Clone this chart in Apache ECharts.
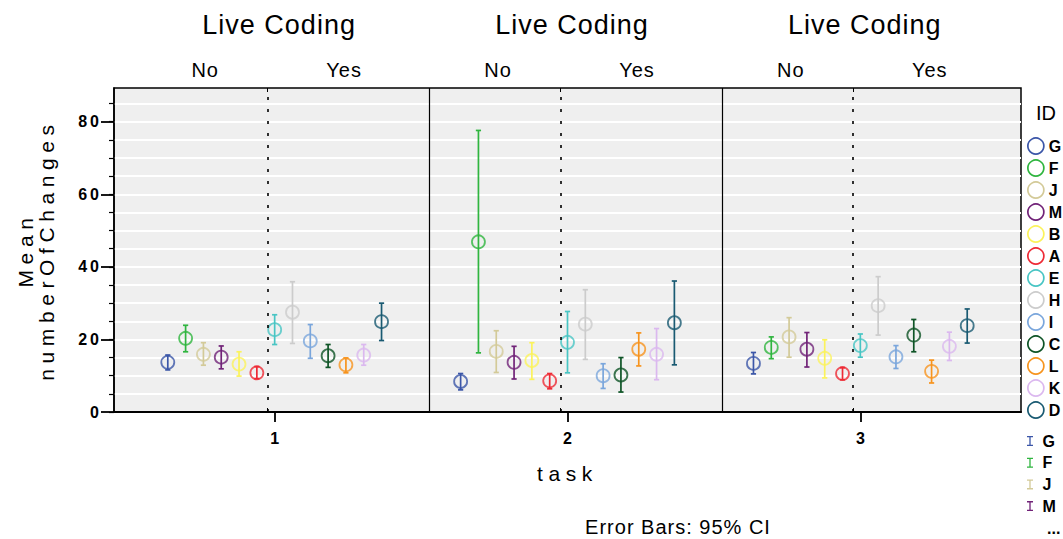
<!DOCTYPE html>
<html>
<head>
<meta charset="utf-8">
<script src="https://cdn.jsdelivr.net/npm/echarts@6/dist/echarts.min.js"></script>
<style>
  html, body { margin: 0; padding: 0; background: #fff; }
  #chart { width: 1063px; height: 539px; }
  /* tracking: wide for axis titles, a little for tick labels and headers */
  #chart text[style*="Helvetica"] { letter-spacing: 5.6px; }
  #chart text[style*="Tahoma"] { letter-spacing: 3px; }
  #chart text[style*="Verdana"] { letter-spacing: 1px; }
</style>
</head>
<body>
<div id="chart"></div>
<script>
// Participants, in plotting order within each task
const IDS = ['G', 'F', 'J', 'M', 'B', 'A', 'E', 'H', 'I', 'C', 'L', 'K', 'D'];
const LIVE_CODING = ['No', 'Yes'];
const TASKS = ['1', '2', '3'];
const ID_COLORS = ['#3b56a8', '#2fb53f', '#d3ca98', '#712378', '#fbf35c', '#ee2a35', '#48c5c4',
                   '#cccccc', '#7aa6dc', '#0e5426', '#f7941e', '#dbb8ef', '#195a72'];

// Mean numberOfChanges with 95% CI, one value per ID (order of IDS)
const MEAN_T1 = [13.7, 20.3, 15.9, 15.1, 13.2, 10.8, 22.7, 27.5, 19.6, 15.5, 13.0, 15.7, 24.9];
const LOW_T1  = [11.6, 16.6, 12.9, 11.9,  9.9,  9.2, 18.6, 18.9, 14.8, 12.3, 10.8, 12.9, 19.7];
const HIGH_T1 = [15.7, 23.9, 19.1, 18.2, 16.6, 12.5, 26.8, 35.9, 24.1, 18.6, 14.9, 18.6, 30.0];

const MEAN_T2 = [ 8.4, 46.9, 16.7, 13.7, 14.2,  8.6, 19.2, 24.2, 10.0, 10.2, 17.3, 15.9, 24.6];
const LOW_T2  = [ 6.1, 16.3, 10.9,  9.1,  9.0,  6.4, 10.8, 14.5,  6.5,  5.5, 12.7,  8.9, 13.0];
const HIGH_T2 = [10.6, 77.6, 22.4, 18.1, 19.1, 10.6, 27.7, 33.7, 13.3, 15.0, 21.8, 23.0, 36.1];

const MEAN_T3 = [13.4, 17.8, 20.7, 17.3, 14.8, 10.6, 18.3, 29.3, 15.2, 21.2, 11.2, 18.1, 23.8];
const LOW_T3  = [10.5, 14.7, 15.1, 12.4,  9.4,  8.9, 15.1, 21.2, 12.0, 16.6,  8.0, 14.2, 19.0];
const HIGH_T3 = [16.4, 20.7, 26.0, 21.9, 19.9, 12.2, 21.5, 37.3, 18.3, 25.5, 14.3, 22.0, 28.4];

// Y axis ticks
const Y_MAJOR = [0, 20, 40, 60, 80];
const Y_MINOR = [0, 5, 10, 15, 20, 25, 30, 35, 40, 45, 50, 55, 60, 65, 70, 75, 80, 85];

// ---- layout of the clustered x axis (one unit = one ID slot) ----
const MEANS = [MEAN_T1, MEAN_T2, MEAN_T3];
const LOWS = [LOW_T1, LOW_T2, LOW_T3];
const HIGHS = [HIGH_T1, HIGH_T2, HIGH_T3];
const TASK_GAP = 16.44;
const FIRST_YES = IDS.length - 7;                 // index of the first "Yes" ID
const X_MIN = -9.02, X_MAX = 41.9, Y_MAX = 89.3;
const taskCenter = t => t * TASK_GAP;
const slotX = (t, k) => taskCenter(t) + (k - FIRST_YES);
const centers = TASKS.map((_, t) => taskCenter(t));
const clusterSplit = TASKS.map((_, t) => taskCenter(t) - 0.4);
const taskSplit = [0, 1].map(t => taskCenter(t) + 8.67);
const noYesPos = [];
TASKS.forEach((_, t) => { noYesPos.push(taskCenter(t) - 3.9, taskCenter(t) + 3.9); });
const headerPos = centers.map(c => c + 0.25);
const nearestTask = v => Math.round(v / TASK_GAP);

const FONT = "'Liberation Sans', Arial";
const FONT_WIDE = "'Liberation Sans', Helvetica";
const FONT_TICK = "'Liberation Sans', Tahoma";
const FONT_HEAD = "'Liberation Sans', Verdana";

const chart = echarts.init(document.getElementById('chart'), null, { renderer: 'svg' });

const series = [];
IDS.forEach((id, k) => {
  const color = ID_COLORS[k];
  const ci = TASKS.map((_, t) => [slotX(t, k), MEANS[t][k], LOWS[t][k], HIGHS[t][k]]);
  series.push({
    name: id,
    type: 'custom',
    xAxisIndex: 0, yAxisIndex: 0,
    color: color,
    silent: true,
    z: 3,
    encode: { x: 0, y: [1, 2, 3] },
    data: ci,
    renderItem: function (params, api) {
      const x = api.value(0);
      const top = api.coord([x, api.value(3)]);
      const bot = api.coord([x, api.value(2)]);
      const w = 2.6;
      const style = { stroke: color, lineWidth: 1.7, fill: null };
      return {
        type: 'group',
        children: [
          { type: 'line', shape: { x1: top[0], y1: top[1], x2: bot[0], y2: bot[1] }, style: style },
          { type: 'line', shape: { x1: top[0] - w, y1: top[1], x2: top[0] + w, y2: top[1] }, style: style },
          { type: 'line', shape: { x1: bot[0] - w, y1: bot[1], x2: bot[0] + w, y2: bot[1] }, style: style }
        ]
      };
    }
  });
  series.push({
    name: id,
    type: 'scatter',
    xAxisIndex: 0, yAxisIndex: 0,
    symbol: 'circle',
    symbolSize: 13,
    z: 4,
    color: color,
    itemStyle: { color: 'rgba(0,0,0,0)', borderColor: color, borderWidth: 1.8 },
    emphasis: { disabled: true },
    data: ci.map(d => [d[0], d[1]])
  });
});

// task separators (solid) and Live Coding separators (dotted)
series.push({
  name: 'frame',
  type: 'scatter',
  data: [],
  silent: true,
  markLine: {
    silent: true,
    symbol: 'none',
    label: { show: false },
    data: taskSplit.map(v => ({ xAxis: v, lineStyle: { type: 'solid', color: '#000', width: 1.2 } }))
      .concat(clusterSplit.map(v => ({ xAxis: v, lineStyle: { type: [3, 9], color: '#000', width: 1.6 } })))
  }
});

const hiddenLine = { show: false, onZero: false };
const legendText = { color: '#000', fontFamily: FONT, fontWeight: 700, fontSize: 16, lineHeight: 16 };

const option = {
  animation: false,
  backgroundColor: '#fff',
  grid: {
    left: 114, right: 42, top: 88, bottom: 127,
    show: true, backgroundColor: '#efefef', borderColor: '#000', borderWidth: 1.5
  },
  xAxis: [
    { // task axis
      type: 'value', min: X_MIN, max: X_MAX, position: 'bottom',
      axisLine: { show: true, onZero: false, lineStyle: { color: '#000', width: 2 } },
      axisTick: { show: true, customValues: centers, length: 10, lineStyle: { color: '#000', width: 1.8 } },
      axisLabel: {
        customValues: centers, margin: 18,
        formatter: v => TASKS[nearestTask(v)],
        color: '#000', fontFamily: FONT, fontWeight: 700, fontSize: 16
      },
      splitLine: { show: false },
      name: 'task', nameLocation: 'middle', nameGap: 51,
      nameTextStyle: { color: '#000', fontFamily: FONT_WIDE, fontSize: 21 }
    },
    { // small inner ticks at the Live Coding splits
      type: 'value', min: X_MIN, max: X_MAX, position: 'bottom',
      axisLine: hiddenLine,
      axisTick: { show: true, inside: true, customValues: clusterSplit, length: 4, lineStyle: { color: '#000', width: 1 } },
      axisLabel: { show: false }, splitLine: { show: false }
    },
    { // Live Coding levels
      type: 'value', min: X_MIN, max: X_MAX, position: 'top',
      axisLine: hiddenLine,
      axisTick: { show: true, inside: true, customValues: clusterSplit.concat(taskSplit), length: 4, lineStyle: { color: '#000', width: 1 } },
      axisLabel: {
        customValues: noYesPos, margin: 8,
        formatter: v => LIVE_CODING[v > taskCenter(nearestTask(v)) ? 1 : 0],
        color: '#000', fontFamily: FONT_HEAD, fontSize: 20
      },
      splitLine: { show: false }
    },
    { // Live Coding header
      type: 'value', min: X_MIN, max: X_MAX, position: 'top',
      axisLine: hiddenLine,
      axisTick: { show: false },
      axisLabel: {
        customValues: headerPos, margin: 50,
        formatter: () => 'Live Coding',
        color: '#000', fontFamily: FONT_HEAD, fontSize: 27
      },
      splitLine: { show: false }
    }
  ],
  yAxis: [
    { // minor ticks and grid lines
      type: 'value', min: 0, max: Y_MAX, position: 'left',
      axisLine: { show: true, onZero: false, lineStyle: { color: '#000', width: 1.6 } },
      axisTick: { show: true, customValues: Y_MINOR, length: 5, lineStyle: { color: '#000', width: 1.2 } },
      axisLabel: { show: false },
      splitLine: { show: true, lineStyle: { color: '#fff', width: 2 } }
    },
    { // major ticks, labels and title
      type: 'value', min: 0, max: Y_MAX, position: 'left',
      axisLine: { show: false, onZero: false },
      axisTick: { show: true, customValues: Y_MAJOR, length: 13, lineStyle: { color: '#000', width: 1.8 } },
      axisLabel: {
        customValues: Y_MAJOR, margin: 12,
        color: '#000', fontFamily: FONT_TICK, fontWeight: 700, fontSize: 16
      },
      splitLine: { show: false },
      name: 'Mean\nnumberOfChanges', nameLocation: 'middle', nameGap: 57, nameRotate: 90,
      nameTextStyle: { color: '#000', fontFamily: FONT_WIDE, fontSize: 21, lineHeight: 21 }
    }
  ],
  legend: [
    {
      orient: 'vertical', left: 1027, top: 137.2, padding: 0,
      itemWidth: 16, itemHeight: 16, itemGap: 4.3,
      selectedMode: false,
      textStyle: legendText,
      data: IDS.map((id, k) => ({
        name: id, icon: 'circle',
        itemStyle: { color: '#fff', borderColor: ID_COLORS[k], borderWidth: 1.7 }
      }))
    },
    {
      orient: 'vertical', left: 1027, top: 433, padding: 0,
      itemWidth: 15, itemHeight: 10, itemGap: 5.7,
      selectedMode: false,
      textStyle: legendText,
      data: IDS.slice(0, 4).map((id, k) => ({
        name: id,
        icon: 'path://M0,0H6V1.3H3.65V8.7H6V10H0V8.7H2.35V1.3H0Z',
        itemStyle: { color: ID_COLORS[k], borderWidth: 0 }
      }))
    }
  ],
  graphic: [
    { type: 'text', x: 1046, y: 113, style: { text: 'ID', font: '20px ' + FONT, fill: '#000', textAlign: 'center', textVerticalAlign: 'middle' } },
    { type: 'text', x: 1047, y: 528, style: { text: '...', font: 'bold 16px ' + FONT, fill: '#000', textAlign: 'left', textVerticalAlign: 'middle' } },
    { type: 'text', x: 678, y: 527, style: { text: 'Error Bars: 95% CI', font: '20px ' + FONT_HEAD, fill: '#000', textAlign: 'center', textVerticalAlign: 'middle' } }
  ],
  series: series
};

chart.setOption(option);
</script>
</body>
</html>
